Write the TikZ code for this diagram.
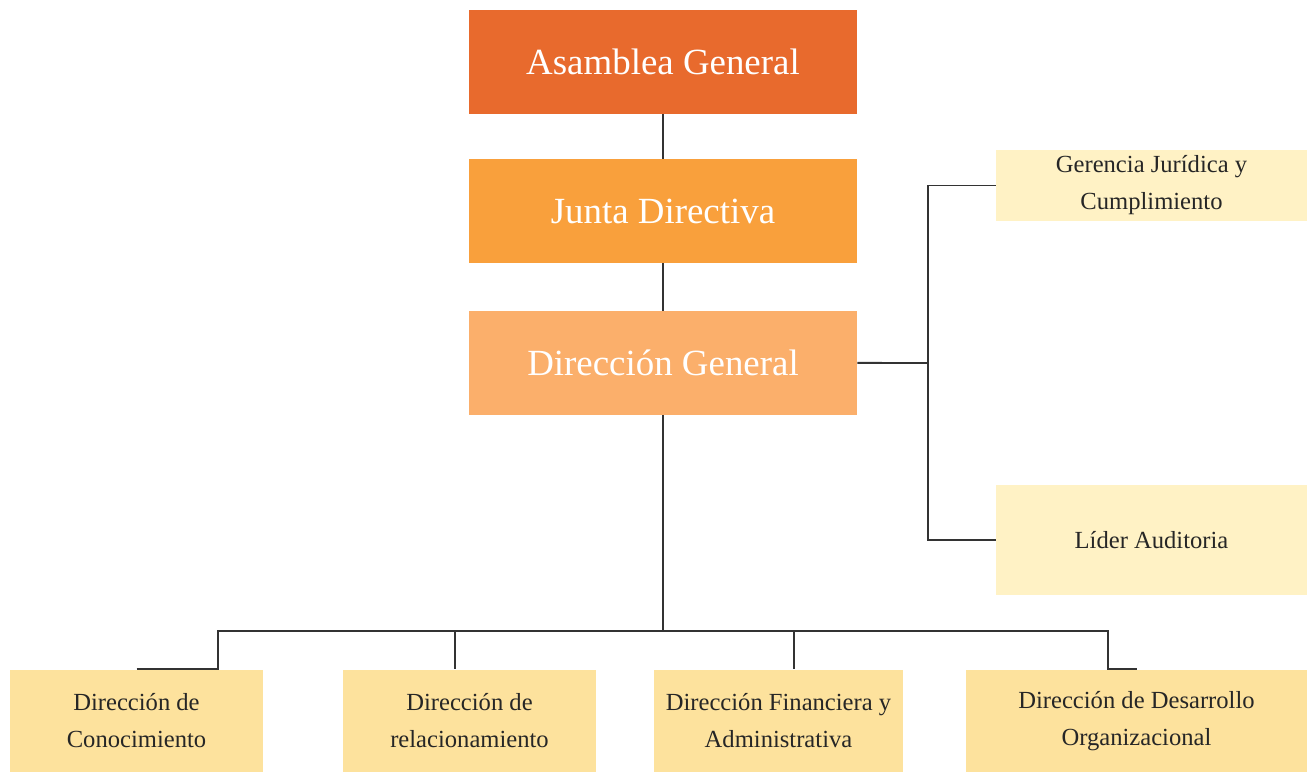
\documentclass[tikz,border=0pt]{standalone}
\usepackage{fontspec}
\setmainfont{Liberation Serif}
\usetikzlibrary{positioning}
\definecolor{asamblea}{HTML}{E86A2D}
\definecolor{junta}{HTML}{F9A03C}
\definecolor{direccion}{HTML}{FBAF6B}
\definecolor{apoyo}{HTML}{FFF2C5}
\definecolor{area}{HTML}{FDE29D}
\definecolor{linea}{HTML}{333333}
\tikzset{
  mando/.style={rectangle, minimum width=7.76cm, minimum height=2.08cm,
    text=white, font=\rmfamily\fontsize{21}{25}\selectfont},
  apoyobox/.style={rectangle, fill=apoyo, minimum width=6.22cm, align=center,
    text=black!85, font=\rmfamily\fontsize{14}{21}\selectfont},
  areabox/.style={rectangle, fill=area, minimum height=2.06cm, align=center,
    text=black!85, font=\rmfamily\fontsize{14}{21}\selectfont},
  conector/.style={draw=linea, line width=1.1pt}
}
\begin{document}
\begin{tikzpicture}[x=0.02cm, y=-0.02cm, node distance=2.98cm, on grid]
   \useasboundingbox (0,0) rectangle (1312,771);
   \node[mando, fill=asamblea] (ag) at (663,62) {Asamblea General};
   \node[mando, fill=junta] (jd) [below=of ag] {Junta Directiva};
   \node[mando, fill=direccion] (dg) [below=3.04cm of jd] {Dirección General};
   \node[apoyobox, minimum height=1.38cm] (gj) at (1151.5,185.5) {Gerencia Jurídica y\\Cumplimiento};
   \node[apoyobox, minimum height=2.2cm] (la) at (1151.5,540) {Líder Auditoria};
   \node[areabox, minimum width=5.06cm] (dc) at (136.5,721) {Dirección de\\Conocimiento};
   \node[areabox, minimum width=5.06cm] (dr) at (469.5,721) {Dirección de\\relacionamiento};
   \node[areabox, minimum width=4.98cm] (df) at (778.5,721) {Dirección Financiera y\\Administrativa};
   \node[areabox, minimum width=6.82cm] (dd) at (1136.5,721) {Dirección de Desarrollo\\Organizacional};
   \coordinate (rama) at (928,363);
   \coordinate (bus1) at (218,631);
   \coordinate (bus2) at (455,631);
   \coordinate (bus3) at (794,631);
   \coordinate (bus4) at (1108,631);
    \path[conector]
    (ag) edge (jd)
    (jd) edge (dg);
    \draw[conector] (dg.east) -- (rama);
    \draw[conector] (gj.west) -| (rama) |- (la.west);
    \draw[conector] (dg.south) -- (dg.south |- bus1);
    \draw[conector] (dc.north) -| (bus1) -- (bus4) |- (dd.north);
    \draw[conector] (bus2) -- (bus2 |- dr.north);
    \draw[conector] (bus3) -- (bus3 |- df.north);
\end{tikzpicture}
\end{document}
